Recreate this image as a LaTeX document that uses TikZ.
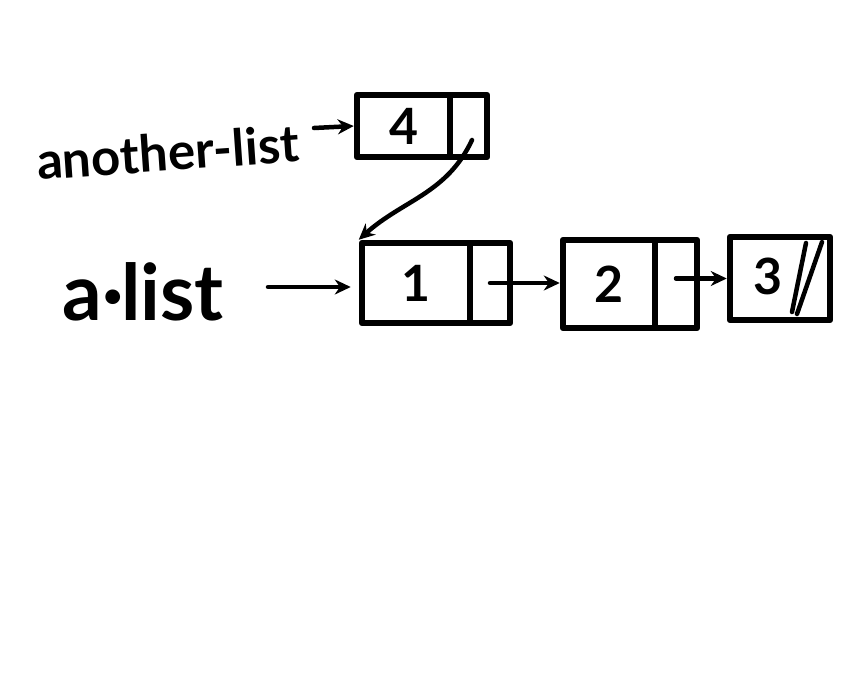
\documentclass[tikz,border=0pt]{standalone}
\usepackage{fontspec}
\setmainfont{Lato}
\usetikzlibrary{arrows.meta}
\tikzset{
  cell/.style={draw, line width=6.5pt, line join=round, inner sep=0pt, rectangle},
  ptr/.style={line width=4.5pt, line cap=round, -{Stealth[length=16pt,width=15pt]}},
  lbl/.style={inner sep=0pt, anchor=center},
  valtxt/.style={font=\bfseries\fontsize{50}{54}\selectfont}
}
\begin{document}
\begin{tikzpicture}[x=1pt,y=-1pt]
\useasboundingbox (0,0) rectangle (860,675);
% box 4
\node[cell, minimum width=93pt, minimum height=62pt, valtxt] (v4) at (403.5,126) {4};
\node[cell, minimum width=37pt, minimum height=62pt] (p4) at (468.5,126) {};
% box 1
\node[cell, minimum width=108pt, minimum height=80pt, valtxt] (v1) at (416,283) {1};
\node[cell, minimum width=40pt, minimum height=80pt] (p1) at (490,283) {};
% box 2
\node[cell, minimum width=92pt, minimum height=88pt, valtxt] (v2) at (609,284) {2};
\node[cell, minimum width=42pt, minimum height=88pt] (p2) at (676,284) {};
% box 3 (single box, null pointer slashed)
\node[cell, minimum width=100pt, minimum height=83pt] (b3) at (780,278.5) {};
\node[lbl, valtxt] (v3) at (768,276) {3};
\coordinate (n1a) at (792,312);
\coordinate (n1b) at (806,243);
\coordinate (n2a) at (797,314);
\coordinate (n2b) at (822,242);
\draw[line width=4.5pt, line cap=round] (n1a) -- (n1b);
\draw[line width=4.5pt, line cap=round] (n2a) -- (n2b);
% labels
\node[lbl, font=\bfseries\fontsize{51}{55}\selectfont, rotate=4] (another) at (168,152) {another-list};
\node[lbl, font=\bfseries\fontsize{78}{84}\selectfont] (alist) at (143,292) {a·list};
% pointers
\coordinate (an) at (314,128);
\coordinate (al) at (268,287);
\coordinate (s4) at (472,140);
\draw[ptr] (an) -- (v4.west);
\draw[ptr] (s4) to[out=-115, in=42] (v1.north west);
\draw[ptr] (al) -- ([xshift=-8pt]al -| v1.west);
\draw[ptr] (p1.center) -- (p1.center -| v2.west);
\draw[ptr] (p2.center |- b3.west) -- (b3.west);
\end{tikzpicture}
\end{document}
